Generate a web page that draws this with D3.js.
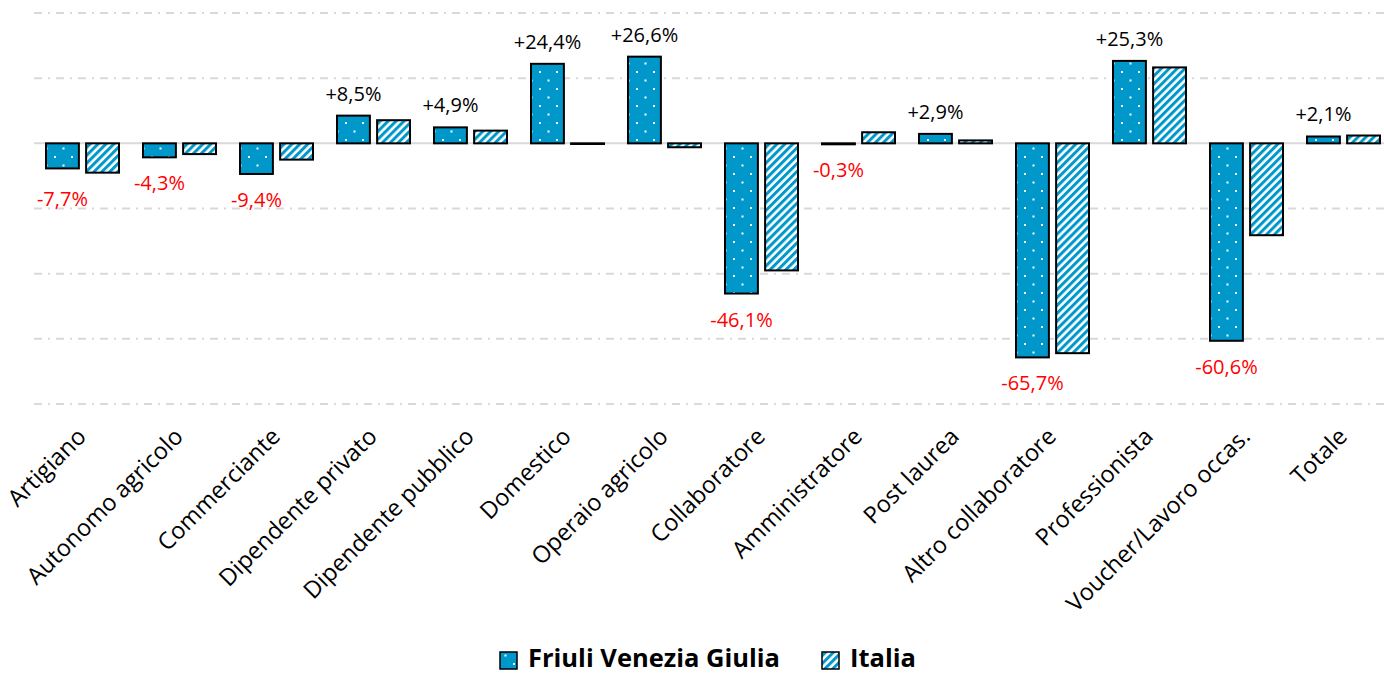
<!DOCTYPE html>
<html>
<head>
<meta charset="utf-8">
<script src="https://cdn.jsdelivr.net/npm/d3@7"></script>
<style>
  html, body { margin: 0; padding: 0; background: #fff; }
  svg { display: block; font-family: "Open Sans", Lato, sans-serif; }
</style>
</head>
<body>
<div id="chart"></div>
<script>
// --- Data ---
const categories = ['Artigiano', 'Autonomo agricolo', 'Commerciante', 'Dipendente privato',
  'Dipendente pubblico', 'Domestico', 'Operaio agricolo', 'Collaboratore', 'Amministratore',
  'Post laurea', 'Altro collaboratore', 'Professionista', 'Voucher/Lavoro occas.', 'Totale'];
const fvgValues = [-7.7, -4.3, -9.4, 8.5, 4.9, 24.4, 26.6, -46.1, -0.3, 2.9, -65.7, 25.3, -60.6, 2.1];
const italiaValues = [-9.0, -3.3, -5.0, 7.1, 3.9, -0.2, -1.2, -39.0, 3.4, 0.9, -64.4, 23.3, -28.2, 2.4];
const seriesNames = ['Friuli Venezia Giulia', 'Italia'];
const gridTicks = [40, 20, -20, -40, -60, -80];

const W = 1384, H = 675;
const blue = '#0098CA';

const svg = d3.select('#chart').append('svg')
  .attr('width', W).attr('height', H);

// --- Patterns ---
const defs = svg.append('defs');
const dots = defs.append('pattern')
  .attr('id', 'dots').attr('patternUnits', 'userSpaceOnUse')
  .attr('width', 17).attr('height', 17);
dots.append('rect').attr('width', 17).attr('height', 17).attr('fill', blue);
dots.append('rect').attr('x', 3).attr('y', 3).attr('width', 2).attr('height', 2).attr('fill', '#fff');
dots.append('rect').attr('x', 11.5).attr('y', 11.5).attr('width', 2).attr('height', 2).attr('fill', '#fff');

const stripes = defs.append('pattern')
  .attr('id', 'stripes').attr('patternUnits', 'userSpaceOnUse')
  .attr('width', 5.6).attr('height', 5.6)
  .attr('patternTransform', 'rotate(45)');
stripes.append('rect').attr('width', 5.6).attr('height', 5.6).attr('fill', '#fff');
stripes.append('rect').attr('width', 3).attr('height', 5.6).attr('fill', blue);

const fills = ['url(#dots)', 'url(#stripes)'];

// --- Scales ---
const x = d3.scaleBand().domain(categories).range([34, 1392]).paddingInner(0).paddingOuter(0);
const y = d3.scaleLinear().domain([-80, 40]).range([404, 13]);
const xs = d3.scaleBand().domain([0, 1]).range([12, x.bandwidth() - 12]).paddingInner(0.18);

// --- Gridlines ---
svg.append('g')
  .selectAll('line').data(gridTicks).join('line')
  .attr('x1', 34).attr('x2', W)
  .attr('y1', d => y(d)).attr('y2', d => y(d))
  .attr('stroke', '#d9d9d9').attr('stroke-width', 2)
  .attr('stroke-dasharray', '8,6,2,6');

svg.append('line')
  .attr('x1', 34).attr('x2', W)
  .attr('y1', y(0)).attr('y2', y(0))
  .attr('stroke', '#d9d9d9').attr('stroke-width', 2);

// --- Bars ---
const rows = categories.map((c, i) => ({ cat: c, vals: [fvgValues[i], italiaValues[i]] }));
const groups = svg.append('g').selectAll('g').data(rows).join('g')
  .attr('transform', d => `translate(${x(d.cat)},0)`);

groups.selectAll('rect')
  .data(d => d.vals.map((v, s) => ({ v, s })))
  .join('rect')
  .attr('x', d => xs(d.s))
  .attr('width', xs.bandwidth())
  .attr('y', d => y(Math.max(0, d.v)))
  .attr('height', d => Math.abs(y(d.v) - y(0)))
  .attr('fill', d => fills[d.s])
  .attr('stroke', '#000')
  .attr('stroke-width', 2);

// --- Value labels (FVG) ---
const fmt = v => (v > 0 ? '+' : v < 0 ? '-' : '') + d3.format('.1f')(Math.abs(v)).replace('.', ',') + '%';
groups.append('text')
  .attr('x', xs(0) + xs.bandwidth() / 2)
  .attr('y', d => {
    const v = d.vals[0];
    if (v >= 0) return y(v) - 15;
    return y(Math.min(v, d.vals[1])) + 33;
  })
  .attr('text-anchor', 'middle')
  .attr('font-size', 20)
  .attr('fill', d => d.vals[0] < 0 ? '#ff0000' : '#000')
  .text(d => fmt(d.vals[0]));

// --- Category axis labels ---
svg.append('g').selectAll('text').data(categories).join('text')
  .attr('transform', d => `translate(${x(d) + x.bandwidth() / 2 + 5},438) rotate(-45)`)
  .attr('text-anchor', 'end')
  .attr('font-size', 23.5)
  .attr('fill', '#000')
  .text(d => d);

// --- Legend ---
const legend = svg.append('g').attr('transform', 'translate(0,660)');
const legendX = [500, 822];
seriesNames.forEach((name, i) => {
  legend.append('rect')
    .attr('x', legendX[i]).attr('y', -8)
    .attr('width', 17).attr('height', 17)
    .attr('fill', fills[i]).attr('stroke', '#000').attr('stroke-width', 1.5);
  legend.append('text')
    .attr('x', legendX[i] + 28).attr('y', 7)
    .attr('font-size', 25.5).attr('font-weight', 'bold')
    .text(name);
});
</script>
</body>
</html>
